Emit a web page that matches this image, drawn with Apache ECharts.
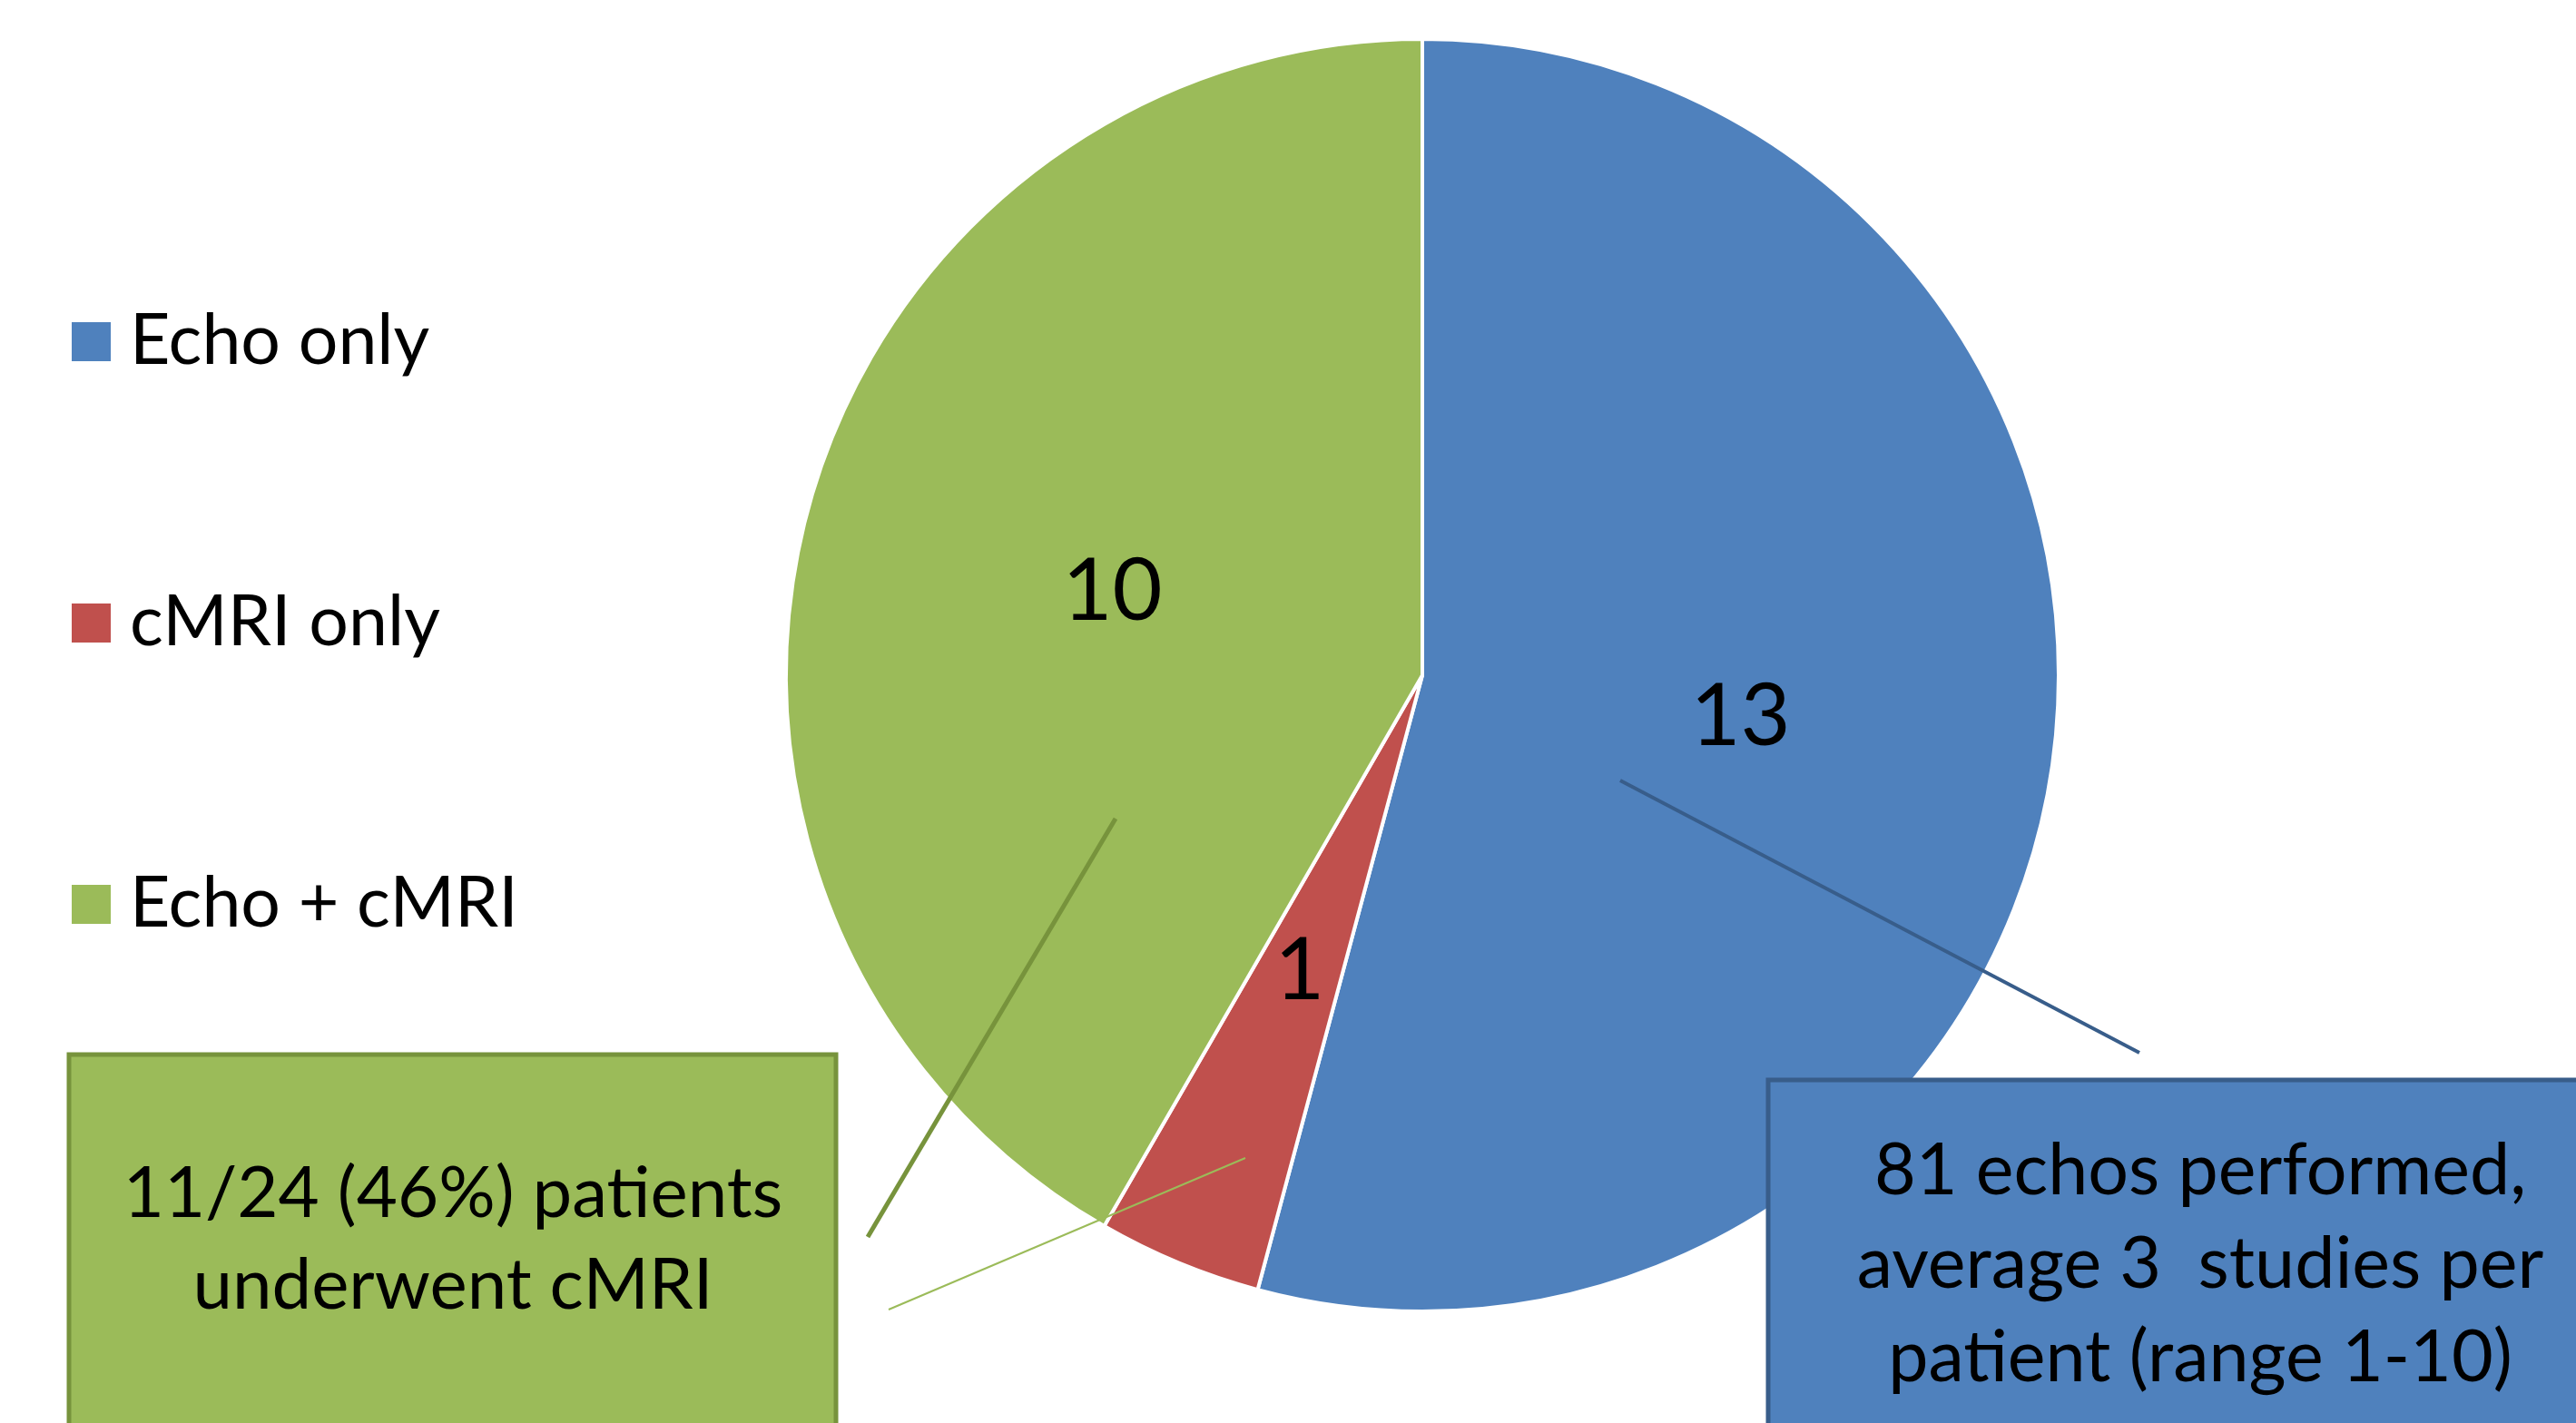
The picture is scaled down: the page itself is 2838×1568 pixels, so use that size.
<!DOCTYPE html>
<html>
<head>
<meta charset="utf-8">
<script src="https://cdn.jsdelivr.net/npm/echarts@6/dist/echarts.min.js"></script>
<style>
html, body { margin: 0; padding: 0; background: #ffffff; }
#chart { width: 2838px; height: 1568px; }
</style>
</head>
<body>
<div id="chart"></div>
<script>
// ---- data ----
const categories = ['Echo only', 'cMRI only', 'Echo + cMRI'];
const values = [13, 1, 10];
const sliceColors = ['#4F81BD', '#C0504D', '#9BBB59'];
const greenNote = ['11/24 (46%) patients', 'underwent cMRI'];
const blueNote = ['81 echos performed,', 'average 3  studies per', 'patient (range 1-10)'];

// ---- layout ----
const FONT = 'Lato, "Open Sans", "Liberation Sans", sans-serif';
const pieCenter = [1567, 744];
const pieRadius = 701;

const chart = echarts.init(document.getElementById('chart'), null, { renderer: 'canvas' });

const option = {
  animation: false,
  backgroundColor: '#ffffff',
  color: sliceColors,
  legend: {
    orient: 'vertical',
    left: 74,
    top: 333,
    icon: 'rect',
    itemWidth: 43,
    itemHeight: 43,
    itemGap: 233,
    selectedMode: false,
    itemStyle: { borderWidth: 0 },
    textStyle: {
      fontFamily: FONT,
      fontSize: 77,
      color: '#000000',
      lineHeight: 43,
      padding: [0, 0, 0, 16]
    },
    data: categories
  },
  series: [{
    type: 'pie',
    center: pieCenter,
    radius: pieRadius,
    startAngle: 90,
    clockwise: true,
    avoidLabelOverlap: false,
    silent: true,
    itemStyle: { borderColor: '#ffffff', borderWidth: 4 },
    label: {
      show: true,
      position: 'inside',
      formatter: '{c}',
      fontFamily: FONT,
      fontSize: 95,
      color: '#000000'
    },
    labelLine: { show: false },
    emphasis: { disabled: true },
    data: categories.map((name, i) => ({ name: name, value: values[i] }))
  }],
  graphic: [
    // blue callout leader line
    {
      type: 'line', z: 100,
      shape: { x1: 1785, y1: 860, x2: 2357, y2: 1160 },
      style: { stroke: '#385D8A', lineWidth: 4 }
    },
    // green callout thick line
    {
      type: 'line', z: 100,
      shape: { x1: 1229, y1: 902, x2: 956, y2: 1363 },
      style: { stroke: '#77933C', lineWidth: 5 }
    },
    // green thin line
    {
      type: 'line', z: 100,
      shape: { x1: 1372, y1: 1276, x2: 979, y2: 1443 },
      style: { stroke: '#9BBB59', lineWidth: 2 }
    },
    // green box
    {
      type: 'rect', z: 100,
      shape: { x: 76, y: 1162, width: 845, height: 420 },
      style: { fill: '#9BBB59', stroke: '#77933C', lineWidth: 5 }
    },
    {
      type: 'text', z: 101,
      x: 499, y: 1366,
      style: {
        text: greenNote.join('\n'),
        fontFamily: FONT,
        fontSize: 78,
        lineHeight: 101,
        fill: '#000000',
        align: 'center',
        verticalAlign: 'middle'
      }
    },
    // blue box
    {
      type: 'rect', z: 100,
      shape: { x: 1948, y: 1190, width: 1000, height: 420 },
      style: { fill: '#4F81BD', stroke: '#385D8A', lineWidth: 5 }
    },
    {
      type: 'text', z: 101,
      x: 2424, y: 1394,
      style: {
        text: blueNote.join('\n'),
        fontFamily: FONT,
        fontSize: 79,
        lineHeight: 103,
        fill: '#000000',
        align: 'center',
        verticalAlign: 'middle'
      }
    }
  ]
};

chart.setOption(option);
</script>
</body>
</html>
